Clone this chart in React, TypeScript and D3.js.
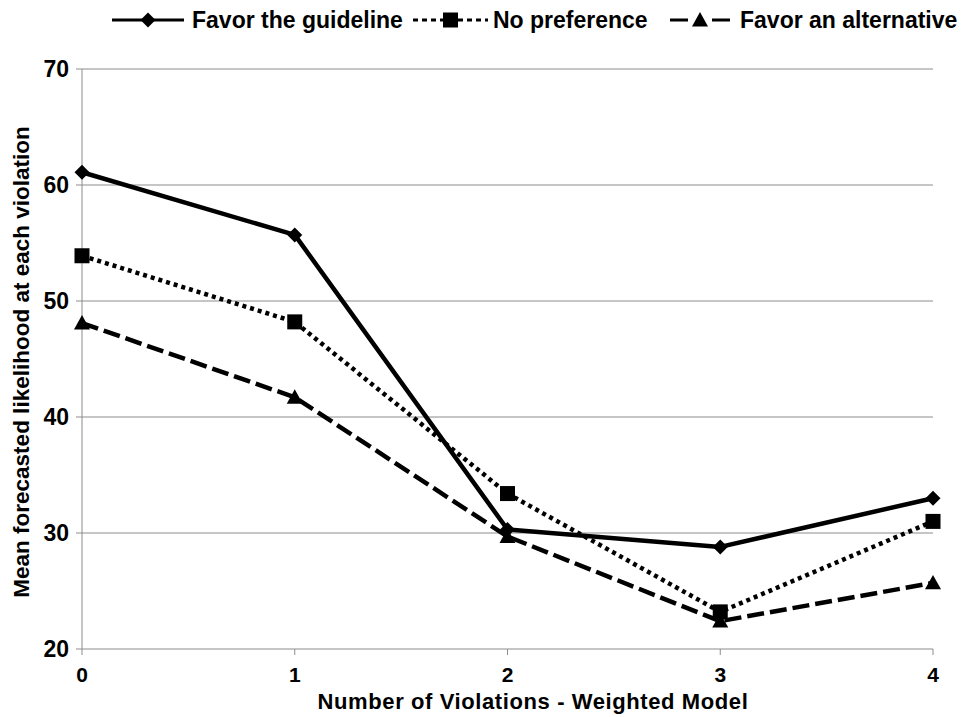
import React from "react";
import * as d3 from "d3";

const categories = [0, 1, 2, 3, 4];
const favorGuideline = [61.1, 55.7, 30.3, 28.8, 33.0];
const noPreference = [53.9, 48.2, 33.4, 23.2, 31.0];
const favorAlternative = [48.1, 41.7, 29.7, 22.4, 25.7];
const yTicks = [20, 30, 40, 50, 60, 70];
const seriesNames = ["Favor the guideline", "No preference", "Favor an alternative"];

const W = 963, H = 717;
const x0 = 82, x1 = 933, yTop = 69, yBot = 649;

function Marker({ type, cx, cy }: { type: string; cx: number; cy: number }) {
  if (type === "diamond") {
    const s = 7.5;
    return <path d={`M${cx},${cy - s}L${cx + s},${cy}L${cx},${cy + s}L${cx - s},${cy}Z`} fill="#000" />;
  }
  if (type === "square") {
    const s = 7.5;
    return <rect x={cx - s} y={cy - s} width={2 * s} height={2 * s} fill="#000" />;
  }
  const s = 8;
  return <path d={`M${cx},${cy - s}L${cx + s},${cy + s * 0.8}L${cx - s},${cy + s * 0.8}Z`} fill="#000" />;
}

export default function App() {
  const x = d3.scaleLinear().domain([0, 4]).range([x0, x1]);
  const y = d3.scaleLinear().domain([20, 70]).range([yBot, yTop]);
  const line = d3.line<number>().x((_, i) => x(categories[i])).y((d) => y(d));
  const series = [
    { name: seriesNames[0], data: favorGuideline, dash: "", marker: "diamond" },
    { name: seriesNames[1], data: noPreference, dash: "4,4", marker: "square" },
    { name: seriesNames[2], data: favorAlternative, dash: "17,6", marker: "triangle" },
  ];
  const font = "'Liberation Sans', Arial, sans-serif";
  const legend = [
    { lx: 112, rx: 184, tx: 192, dash: undefined as string | undefined },
    { lx: 413, rx: 488, tx: 493, dash: "5,4" },
    { lx: 670, rx: 730, tx: 740, dash: "18,24" },
  ];
  const fs = 23;
  return (
    <svg width={W} height={H} style={{ position: "absolute", left: 0, top: 0, background: "#fff" }} fontFamily={font} fontWeight="bold">
      {yTicks.map((t) => (
        <g key={t}>
          {t > 20 && <line x1={x0} x2={x1} y1={y(t)} y2={y(t)} stroke="#8c8c8c" strokeWidth={1} />}
          <line x1={x0 - 6} x2={x0} y1={y(t)} y2={y(t)} stroke="#8c8c8c" />
          <text x={69} y={y(t) + 8} textAnchor="end" fontSize={fs}>{t}</text>
        </g>
      ))}
      <line x1={x0} x2={x0} y1={yTop} y2={yBot} stroke="#8c8c8c" />
      <line x1={x0} x2={x1} y1={yBot} y2={yBot} stroke="#8c8c8c" />
      {categories.map((c) => (
        <g key={c}>
          <line x1={x(c)} x2={x(c)} y1={yBot} y2={yBot + 6} stroke="#8c8c8c" />
          <text x={x(c)} y={682} textAnchor="middle" fontSize={21}>{c}</text>
        </g>
      ))}
      <text x={533} y={709} textAnchor="middle" fontSize={22} letterSpacing={0.6}>Number of Violations - Weighted Model</text>
      <text transform={`translate(29,362) rotate(-90)`} textAnchor="middle" fontSize={22.5}>Mean forecasted likelihood at each violation</text>
      {series.map((s) => (
        <g key={s.name}>
          <path d={line(s.data) || ""} fill="none" stroke="#000" strokeWidth={4.5} strokeDasharray={s.dash || undefined} strokeLinejoin="round" />
          {s.data.map((v, i) => (
            <Marker key={i} type={s.marker} cx={x(categories[i])} cy={y(v)} />
          ))}
        </g>
      ))}
      {series.map((s, i) => (
        <g key={"lg" + i}>
          <line x1={legend[i].lx} x2={legend[i].rx} y1={20} y2={20} stroke="#000" strokeWidth={3} strokeDasharray={legend[i].dash} />
          <Marker type={s.marker} cx={(legend[i].lx + legend[i].rx) / 2} cy={20} />
          <text x={legend[i].tx} y={28} fontSize={fs}>{s.name}</text>
        </g>
      ))}
    </svg>
  );
}
